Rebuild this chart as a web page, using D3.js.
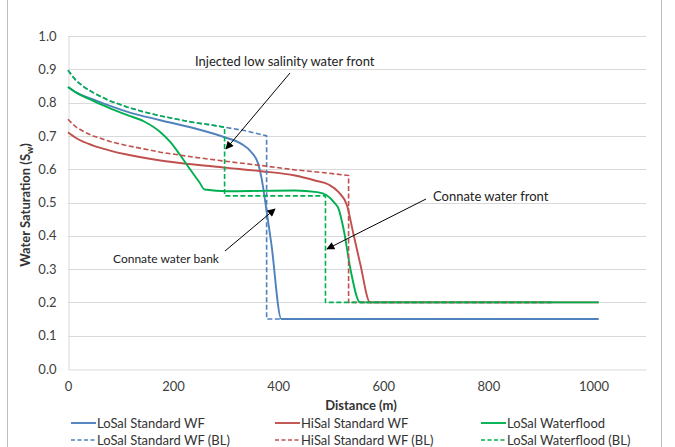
<!DOCTYPE html>
<html>
<head>
<meta charset="utf-8">
<script src="https://cdn.jsdelivr.net/npm/d3@7"></script>
<style>
  html, body { margin: 0; padding: 0; background: #fff; }
  svg { display: block; font-family: Lato, "Open Sans", sans-serif; }
</style>
</head>
<body>
<svg id="chart" width="675" height="447"></svg>
<script>
// ---- data ----
const xTicks = [0, 200, 400, 600, 800, 1000];
const yTicks = [0, 0.1, 0.2, 0.3, 0.4, 0.5, 0.6, 0.7, 0.8, 0.9, 1.0];
const seriesNames = [
  "LoSal Standard WF", "HiSal Standard WF", "LoSal Waterflood",
  "LoSal Standard WF (BL)", "HiSal Standard WF (BL)", "LoSal Waterflood (BL)"
];

const losalStdX = [0, 16, 48, 80, 112, 176, 240, 298, 330, 349, 362, 368, 376, 387, 406, 1010];
const losalStdY = [0.847, 0.83, 0.81, 0.79, 0.773, 0.747, 0.723, 0.696, 0.676, 0.651, 0.616, 0.576, 0.496, 0.376, 0.15, 0.15];

const hisalStdX = [0, 16, 48, 80, 112, 176, 240, 304, 368, 432, 470, 496, 515, 531, 543, 556, 575, 1010];
const hisalStdY = [0.711, 0.693, 0.671, 0.656, 0.644, 0.626, 0.614, 0.604, 0.594, 0.581, 0.566, 0.554, 0.531, 0.491, 0.407, 0.317, 0.2, 0.2];

const losalWfX = [0, 16, 48, 80, 112, 144, 176, 195, 214, 234, 250, 260, 304, 368, 432, 474, 493, 506, 515, 525, 538, 556, 1010];
const losalWfY = [0.847, 0.83, 0.805, 0.783, 0.763, 0.744, 0.711, 0.681, 0.641, 0.596, 0.561, 0.539, 0.534, 0.535, 0.536, 0.531, 0.521, 0.501, 0.481, 0.416, 0.296, 0.2, 0.2];

const losalStdBLX = [0, 8, 16, 32, 48, 64, 80, 112, 144, 176, 208, 240, 272, 298, 336, 378, 378, 920];
const losalStdBLY = [0.897, 0.88, 0.865, 0.845, 0.83, 0.817, 0.805, 0.787, 0.772, 0.76, 0.75, 0.74, 0.733, 0.726, 0.716, 0.70, 0.15, 0.15];

const hisalStdBLX = [0, 8, 16, 32, 48, 80, 112, 176, 240, 304, 368, 432, 496, 534, 534, 920];
const hisalStdBLY = [0.75, 0.737, 0.726, 0.711, 0.70, 0.683, 0.671, 0.651, 0.636, 0.623, 0.611, 0.598, 0.588, 0.581, 0.2, 0.2];

const losalWfBLX = [0, 8, 16, 32, 48, 64, 80, 112, 144, 176, 208, 240, 272, 298, 298, 490, 490, 920];
const losalWfBLY = [0.897, 0.88, 0.865, 0.845, 0.83, 0.817, 0.805, 0.787, 0.772, 0.76, 0.75, 0.74, 0.733, 0.726, 0.52, 0.52, 0.2, 0.2];

const seriesColors = ["#4F81BD", "#C0504D", "#00B050", "#4F81BD", "#C0504D", "#00B050"];
const seriesDashed = [false, false, false, true, true, true];
const seriesX = [losalStdX, hisalStdX, losalWfX, losalStdBLX, hisalStdBLX, losalWfBLX];
const seriesY = [losalStdY, hisalStdY, losalWfY, losalStdBLY, hisalStdBLY, losalWfBLY];

// ---- layout ----
const svg = d3.select("#chart");
const plot = { left: 68, right: 646, top: 36, bottom: 369 };
const x = d3.scaleLinear().domain([0, 1100]).range([plot.left, plot.right]);
const y = d3.scaleLinear().domain([0, 1]).range([plot.bottom, plot.top]);

// chart frame
svg.append("line").attr("x1", 7.5).attr("x2", 7.5).attr("y1", 0).attr("y2", 447)
  .attr("stroke", "#BFBFBF").attr("stroke-width", 1);
svg.append("line").attr("x1", 661.5).attr("x2", 661.5).attr("y1", 0).attr("y2", 447)
  .attr("stroke", "#BFBFBF").attr("stroke-width", 1);

// gridlines
svg.append("g").selectAll("line").data(yTicks.filter(d => d > 0)).join("line")
  .attr("x1", plot.left).attr("x2", plot.right)
  .attr("y1", d => Math.round(y(d)) + 0.5).attr("y2", d => Math.round(y(d)) + 0.5)
  .attr("stroke", "#D9D9D9").attr("stroke-width", 1);

// axes
const yAxis = d3.axisLeft(y).tickValues(yTicks).tickFormat(d3.format(".1f")).tickSize(0).tickPadding(12);
const gy = svg.append("g").attr("transform", `translate(${plot.left + 0.5},0)`).call(yAxis);
gy.select(".domain").attr("stroke", "#D9D9D9");
gy.selectAll("text").attr("font-size", 13).attr("fill", "#404040").attr("font-family", "Lato, sans-serif");

const xAxis = d3.axisBottom(x).tickValues(xTicks).tickFormat(d3.format("d")).tickSize(0).tickPadding(12);
const gx = svg.append("g").attr("transform", `translate(0,${plot.bottom + 0.5})`).call(xAxis);
gx.select(".domain").attr("stroke", "#D9D9D9");
gx.selectAll("text").attr("font-size", 13).attr("fill", "#404040").attr("font-family", "Lato, sans-serif");

// axis titles
svg.append("text").attr("x", (plot.left + plot.right) / 2 + 4).attr("y", 410)
  .attr("text-anchor", "middle").attr("font-size", 13).attr("font-weight", "bold").attr("fill", "#333")
  .text("Distance (m)");

const yt = svg.append("text").attr("transform", "translate(30,205) rotate(-90)")
  .attr("text-anchor", "middle").attr("font-size", 13).attr("font-weight", "bold").attr("fill", "#333");
yt.append("tspan").text("Water Saturation (S");
yt.append("tspan").attr("font-size", 9).attr("dy", 3).text("w");
yt.append("tspan").attr("dy", -3).text(")");

// series
const line = d3.line().x(d => x(d[0])).y(d => y(d[1]));
seriesNames.forEach((name, i) => {
  const pts = seriesX[i].map((v, j) => [v, seriesY[i][j]]);
  svg.append("path").datum(pts)
    .attr("d", line.curve(seriesDashed[i] ? d3.curveLinear : d3.curveMonotoneX))
    .attr("fill", "none")
    .attr("stroke", seriesColors[i])
    .attr("stroke-width", seriesDashed[i] ? 1.6 : 1.9)
    .attr("stroke-dasharray", seriesDashed[i] ? "5,2.5" : null)
    .attr("stroke-linejoin", "round");
});

// annotations
svg.append("defs").append("marker").attr("id", "arrow")
  .attr("viewBox", "0 0 10 10").attr("refX", 9).attr("refY", 5)
  .attr("markerUnits", "userSpaceOnUse").attr("markerWidth", 9).attr("markerHeight", 8)
  .attr("orient", "auto")
  .append("path").attr("d", "M0,0 L10,5 L0,10 z").attr("fill", "#000");

const arrows = [
  [290, 73, 226, 149],
  [225, 251, 275, 209],
  [426, 199, 327, 249]
];
arrows.forEach(a => {
  svg.append("line").attr("x1", a[0]).attr("y1", a[1]).attr("x2", a[2]).attr("y2", a[3])
    .attr("stroke", "#000").attr("stroke-width", 1).attr("marker-end", "url(#arrow)");
});

svg.append("text").attr("x", 195).attr("y", 66).attr("font-size", 13).attr("fill", "#222")
  .text("Injected low salinity water front");
svg.append("text").attr("x", 433).attr("y", 201).attr("font-size", 13).attr("fill", "#222")
  .text("Connate water front");
svg.append("text").attr("x", 113).attr("y", 263).attr("font-size", 12).attr("fill", "#222")
  .text("Connate water bank");

// legend
const legX = [71, 275, 481];
const legY = [423, 440];
seriesNames.forEach((name, i) => {
  const col = i % 3, row = Math.floor(i / 3);
  const g = svg.append("g").attr("transform", `translate(${legX[col]},${legY[row]})`);
  g.append("line").attr("x1", 0).attr("x2", 25).attr("y1", 0).attr("y2", 0)
    .attr("stroke", seriesColors[i]).attr("stroke-width", seriesDashed[i] ? 1.6 : 1.9)
    .attr("stroke-dasharray", seriesDashed[i] ? "4,2.5" : null);
  g.append("text").attr("x", 26).attr("y", 0).attr("dy", "0.35em")
    .attr("font-size", 13).attr("fill", "#333").text(name);
});
</script>
</body>
</html>
